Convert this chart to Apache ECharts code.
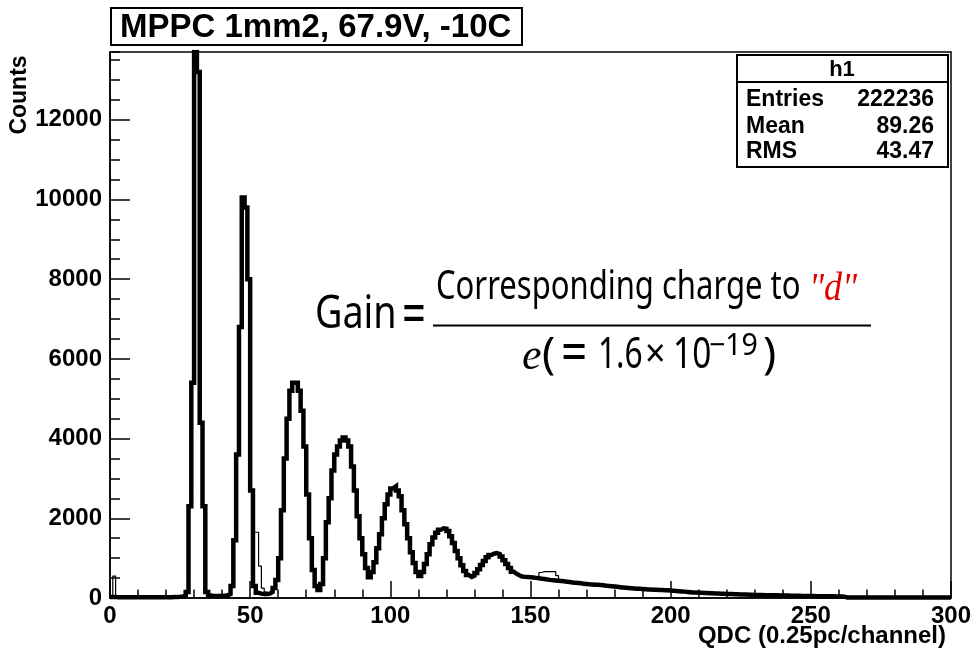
<!DOCTYPE html>
<html>
<head>
<meta charset="utf-8">
<script src="https://cdn.jsdelivr.net/npm/echarts@6/dist/echarts.min.js"></script>
<style>
html,body{margin:0;padding:0;background:#fff;}
#c{width:973px;height:655px;}
</style>
</head>
<body>
<div id="c"></div>
<script>
// ---- data (QDC channel histogram, bin i covers [i, i+1)) ----
const chartTitle = 'MPPC 1mm2, 67.9V, -10C';
const xTitle = 'QDC (0.25pc/channel)';
const yTitle = 'Counts';
const statNames = ['Entries', 'Mean', 'RMS'];
const statValues = ['222236', '89.26', '43.47'];
const histName = 'h1';

// thick histogram, channels 0..299
const countsThick = [
  // 0-25
  25,25,20,20,20,20,20,20,20,20, 20,20,20,20,20,20,20,20,20,20, 20,20,25,25,30,40,
  // 26-59
  60,150,2300,5400,13700,13200,4400,2300,150,60, 50,50,50,50,60,70,100,300,1450,3600,
  6800,10050,9800,8000,2700,300,130,110,100,100, 110,150,250,450,
  // 60-99
  1000,2200,3500,4500,5200,5400,5400,5200,4700,3800, 2600,1500,700,300,200,350,1000,1900,2500,3200,
  3600,3800,3950,4030,3950,3800,3300,2700,2050,1500, 1100,750,520,650,900,1250,1600,2000,2350,2600,
  // 100-145
  2750,2800,2700,2550,2200,1850,1500,1150,880,650, 550,650,850,1100,1350,1520,1640,1710,1750,1740,
  1680,1550,1380,1180,1000,820,680,580,530,560, 630,720,830,930,1020,1080,1110,1125,1100,1040,
  950,850,750,660,610,570,
  // 146-199
  540,530,525,520,515,505,495,485,475,465, 455,448,440,432,425,418,410,400,390,382,
  375,368,360,352,345,340,335,330,325,318, 310,302,295,288,280,272,265,258,252,246,
  240,235,230,225,220,216,212,208,205,202, 199,197,195,190,
  // 200-261
  184,178,172,166,160,153,146,140,135,132, 129,126,123,120,117,115,112,109,106,103,
  100,98,95,92,90,87,85,82,80,78, 76,75,73,72,70,69,67,66,64,63,
  61,60,58,57,55,54,52,51,50,49, 48,47,46,45,44,43,42,41,40,38,
  36,34,
  // 262-299
  10,10,10,10,10,10,10,10,10,10, 10,10,10,10,10,10,10,10,10,10,
  10,10,10,10,10,10,10,10,10,10, 10,10,10,10,10,10,10,10
];

// thin histogram: only the stretches where it departs from the thick one (null = gap)
const thinChannels = [0,1,2,3, null, 49,50,51,52,53,54,55,56,57,58,59, null, 150,151,152,153,154,155,156,157,158,159,160,161];
const thinCounts   = [25,550,25,25, null, 8000,2700,1650,1650,800,250,150,110,150,250,450, null, 515,505,495,640,660,660,660,660,660,560,430,418];

// axis settings
const xMin = 0, xMax = 300, xMajor = 50, xMinor = 10;
const yMin = 0, yMax = 13700, yMajor = 2000, yMinor = 500;

// ---- build series data ----
const thickData = countsThick.map((v, i) => [i, v]);
thickData.push([countsThick.length, countsThick[countsThick.length - 1]]);

const thinSegs = [];
let cur = [];
thinChannels.forEach((c, i) => {
  if (c === null) { if (cur.length) thinSegs.push(cur); cur = []; }
  else cur.push([c, thinCounts[i]]);
});
if (cur.length) thinSegs.push(cur);

const chart = echarts.init(document.getElementById('c'), null, {renderer: 'canvas'});
const labelFont = {fontFamily: '"Liberation Sans", Arial, sans-serif', fontWeight: 'bold', fontSize: 24, color: '#000'};

const series = thinSegs.map(seg => ({
  type: 'line', step: 'end', data: seg, symbol: 'none', silent: true, animation: false,
  xAxisIndex: 0, yAxisIndex: 0, z: 2,
  lineStyle: {color: '#000', width: 1.2}
}));
series.push({
  type: 'line', step: 'end', data: thickData, symbol: 'none', silent: true, animation: false,
  xAxisIndex: 0, yAxisIndex: 0, z: 3,
  lineStyle: {color: '#000', width: 4.5, join: 'miter'}
});

const F = '"Noto Sans", sans-serif';
const FS = '"Liberation Serif", serif';
const B = '"Liberation Sans", Arial, sans-serif';

function txt(text, x, y, font, opts) {
  opts = opts || {};
  return {
    type: 'text', x: x, y: y, z: 100,
    scaleX: opts.sx || 1, scaleY: 1, rotation: opts.rot || 0,
    style: {
      text: text, font: font, fill: opts.fill || '#000',
      align: opts.align || 'left', verticalAlign: 'middle',
      textAlign: opts.align || 'left', textVerticalAlign: 'middle'
    }
  };
}

const graphic = [
  // title box
  {type: 'rect', shape: {x: 111, y: 8, width: 411, height: 37}, style: {fill: '#fff', stroke: '#000', lineWidth: 2}, z: 90},
  txt(chartTitle, 120, 27.5, 'bold 33px ' + B),
  // stats box
  {type: 'rect', shape: {x: 737, y: 55, width: 211, height: 112}, style: {fill: '#fff', stroke: '#000', lineWidth: 2}, z: 90},
  {type: 'line', shape: {x1: 737, y1: 82, x2: 948, y2: 82}, style: {stroke: '#000', lineWidth: 2}, z: 91},
  txt(histName, 842, 70, 'bold 22px ' + B, {align: 'center'}),
  txt(statNames[0], 746, 100, 'bold 23px ' + B),
  txt(statValues[0], 934, 100, 'bold 23px ' + B, {align: 'right'}),
  txt(statNames[1], 746, 126.5, 'bold 23px ' + B),
  txt(statValues[1], 934, 126.5, 'bold 23px ' + B, {align: 'right'}),
  txt(statNames[2], 746, 152, 'bold 23px ' + B),
  txt(statValues[2], 934, 152, 'bold 23px ' + B, {align: 'right'}),
  // axis titles
  txt(yTitle, 20, 95, 'bold 23px ' + B, {align: 'center', rot: Math.PI / 2}),
  txt(xTitle, 946, 636, 'bold 24px ' + B, {align: 'right'}),
  // formula
  txt('Gain', 315, 315, '46px ' + F, {sx: 0.82}),
  txt('=', 402, 317.5, '58px ' + F, {sx: 0.72}),
  txt('Corresponding charge to', 436, 287.5, '40px ' + F, {sx: 0.775}),
  txt('"d"', 809, 289.5, 'italic 40px ' + FS, {sx: 0.9, fill: '#e00000'}),
  {type: 'rect', shape: {x: 433, y: 324.5, width: 438, height: 2}, style: {fill: '#000'}, z: 100},
  txt('e', 522, 357, 'italic 44px ' + FS),
  txt('(', 542, 355, '44px ' + F),
  txt('=', 561, 355.5, '54px ' + F, {sx: 0.85}),
  txt('1.6', 598, 355, '44px ' + F, {sx: 0.72}),
  txt('\u00d7', 645, 356, '40px ' + F, {sx: 0.9}),
  txt('10', 673, 355, '44px ' + F, {sx: 0.76}),
  txt('\u221219', 709, 346.4, '30px ' + F, {sx: 0.95}),
  txt(')', 763, 355, '44px ' + F)
];

const option = {
  backgroundColor: '#fff',
  animation: false,
  grid: {left: 110, right: 22, top: 52, bottom: 57, show: true, borderColor: '#000', borderWidth: 1.5, backgroundColor: 'transparent', containLabel: false, outerBoundsMode: 'none'},
  xAxis: [
    {type: 'value', min: xMin, max: xMax, interval: xMajor, position: 'bottom',
     axisLine: {show: true, onZero: false, lineStyle: {color: '#000', width: 1.5}},
     axisTick: {show: true, inside: true, length: 17, lineStyle: {color: '#000', width: 1.5}},
     axisLabel: Object.assign({margin: 6, formatter: v => String(v)}, labelFont),
     splitLine: {show: false}},
    {type: 'value', min: xMin, max: xMax, interval: xMinor, position: 'bottom',
     axisLine: {show: false, onZero: false},
     axisTick: {show: true, inside: true, length: 8.5, lineStyle: {color: '#000', width: 1.5}},
     axisLabel: {show: false}, splitLine: {show: false}}
  ],
  yAxis: [
    {type: 'value', min: yMin, max: yMax, interval: yMajor, position: 'left',
     axisLine: {show: true, onZero: false, lineStyle: {color: '#000', width: 1.5}},
     axisTick: {show: true, inside: true, length: 20, lineStyle: {color: '#000', width: 1.5}},
     axisLabel: Object.assign({margin: 8, showMaxLabel: false, formatter: v => String(v)}, labelFont),
     splitLine: {show: false}},
    {type: 'value', min: yMin, max: yMax, interval: yMinor, position: 'left',
     axisLine: {show: false, onZero: false},
     axisTick: {show: true, inside: true, length: 10, lineStyle: {color: '#000', width: 1.5}},
     axisLabel: {show: false}, splitLine: {show: false}}
  ],
  series: series,
  graphic: graphic
};
chart.setOption(option);
</script>
</body>
</html>
